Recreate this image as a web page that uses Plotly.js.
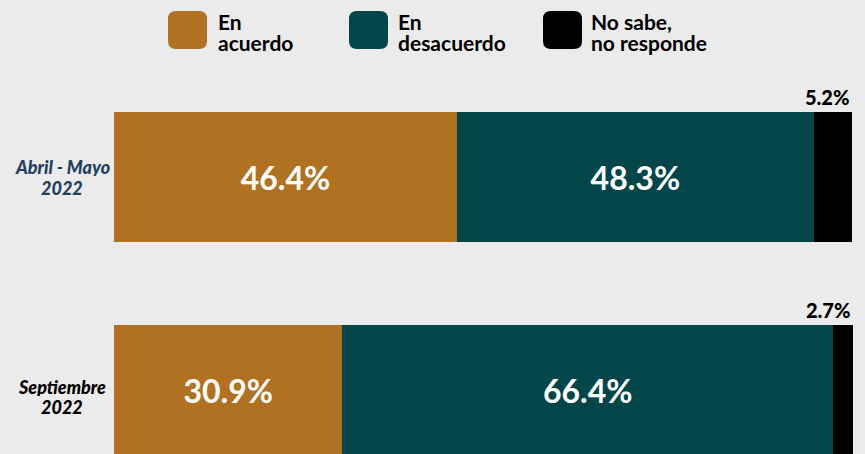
<!DOCTYPE html>
<html>
<head>
<meta charset="utf-8">
<script src="https://cdn.plot.ly/plotly-3.0.1.min.js"></script>
<style>html,body{margin:0;padding:0;background:#ebebeb;}</style>
</head>
<body>
<div id="chart" style="width:865px;height:454px;"></div>
<script>
// ---- data ----
const periods = ['Abril - Mayo 2022', 'Septiembre 2022'];
const periodLines = [['Abril - Mayo', '2022'], ['Septiembre', '2022']];
const periodColors = ['#243f60', '#000000'];
const seriesNames = ['En acuerdo', 'En desacuerdo', 'No sabe, no responde'];
const legendLines = [['En', 'acuerdo'], ['En', 'desacuerdo'], ['No sabe,', 'no responde']];
const enAcuerdo = [46.4, 30.9];
const enDesacuerdo = [48.3, 66.4];
const noSabe = [5.2, 2.7];
const colors = ['#b07220', '#02464a', '#000000'];

// ---- layout geometry ----
const W = 865, H = 454, ML = 114, MR = 12, MT = 0, MB = 0;
const PW = W - ML - MR, PH = H - MT - MB;
const px2x = p => (p - ML) / PW;
const py2y = p => 1 - (p - MT) / PH;
const XMAX = 100;

const font = 'Lato, "Open Sans", sans-serif';

const allSeries = [enAcuerdo, enDesacuerdo, noSabe];
const traces = allSeries.map((vals, i) => ({
  type: 'bar',
  orientation: 'h',
  name: seriesNames[i],
  y: periods,
  x: vals,
  marker: {color: colors[i], line: {width: 0}},
  text: i < 2 ? vals.map(v => v.toFixed(1) + '%') : vals.map(() => ''),
  textposition: i < 2 ? 'inside' : 'none',
  insidetextanchor: 'middle',
  textfont: {family: font, size: 32, color: '#ffffff', weight: 'bold'},
  hoverinfo: 'skip'
}));

const annotations = [];
// period labels (two lines each)
const periodLineY = [[167, 188], [387, 407]];
periods.forEach((p, i) => {
  periodLines[i].forEach((ln, j) => {
    annotations.push({
      xref: 'paper', yref: 'paper', x: px2x(62), y: py2y(periodLineY[i][j]),
      text: ln, height: 18, borderpad: 0,
      showarrow: false, xanchor: 'center', yanchor: 'middle',
      font: {family: font, size: 18, color: periodColors[i], weight: 900, style: 'italic'}
    });
  });
});
// outside labels for "No sabe" (right end of each stacked bar)
periods.forEach((p, i) => {
  const total = enAcuerdo[i] + enDesacuerdo[i] + noSabe[i];
  annotations.push({
    xref: 'paper', yref: 'y', x: Math.min(total, XMAX) / XMAX, y: p, yshift: 80,
    text: noSabe[i].toFixed(1) + '%',
    showarrow: false, xanchor: 'right', yanchor: 'middle',
    font: {family: font, size: 20, color: '#000000', weight: 900}
  });
});

// custom legend
const legendX = [168, 349, 543];
const legendTextX = [217, 397, 590];
const shapes = [];
function roundRect(x0, y0, x1, y1, r) {
  const X = px2x, Y = py2y;
  return `M ${X(x0 + r)} ${Y(y0)} L ${X(x1 - r)} ${Y(y0)} Q ${X(x1)} ${Y(y0)} ${X(x1)} ${Y(y0 + r)} ` +
         `L ${X(x1)} ${Y(y1 - r)} Q ${X(x1)} ${Y(y1)} ${X(x1 - r)} ${Y(y1)} ` +
         `L ${X(x0 + r)} ${Y(y1)} Q ${X(x0)} ${Y(y1)} ${X(x0)} ${Y(y1 - r)} ` +
         `L ${X(x0)} ${Y(y0 + r)} Q ${X(x0)} ${Y(y0)} ${X(x0 + r)} ${Y(y0)} Z`;
}
seriesNames.forEach((n, i) => {
  shapes.push({
    type: 'path', xref: 'paper', yref: 'paper',
    path: roundRect(legendX[i], 11, legendX[i] + 39, 49, 8),
    fillcolor: colors[i], line: {width: 0}, layer: 'above'
  });
  legendLines[i].forEach((ln, j) => {
    annotations.push({
      xref: 'paper', yref: 'paper', x: px2x(legendTextX[i]), y: py2y(21 + j * 21),
      text: ln, borderpad: 0, showarrow: false, xanchor: 'left', yanchor: 'middle',
      font: {family: font, size: 21, color: '#000000', weight: 'bold'}
    });
  });
});

const layout = {
  width: W, height: H,
  margin: {l: ML, r: MR, t: MT, b: MB, pad: 0},
  paper_bgcolor: '#ebebeb', plot_bgcolor: '#ebebeb',
  barmode: 'stack', bargap: 0.39,
  showlegend: false,
  xaxis: {range: [0, XMAX], visible: false, fixedrange: true},
  yaxis: {type: 'category', categoryarray: periods, range: [1.300, -0.831],
          visible: false, fixedrange: true},
  annotations: annotations,
  shapes: shapes
};

Plotly.newPlot('chart', traces, layout, {displayModeBar: false, staticPlot: true});
</script>
</body>
</html>
